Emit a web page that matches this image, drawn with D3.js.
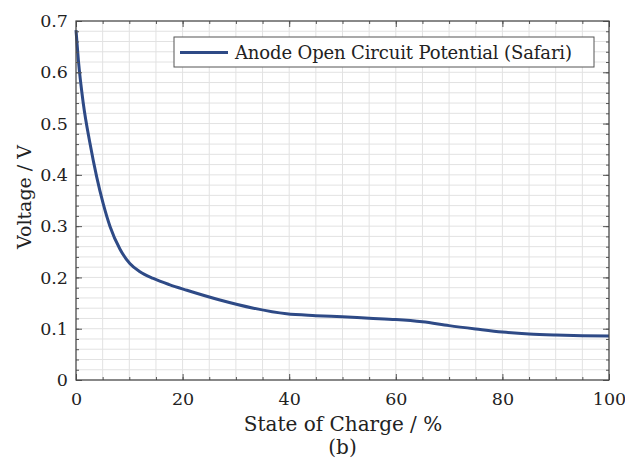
<!DOCTYPE html>
<html><head><meta charset="utf-8">
<script src="https://cdn.jsdelivr.net/npm/d3@7"></script>
<style>
body{margin:0;background:#fff;}
svg{display:block;}
</style></head>
<body>
<script>
const soc = [0, 0.44, 1.37, 2.63, 3.88, 5.1, 6.4, 8.26, 10.1, 12.0, 14.5, 17.5, 20.8, 27, 33.3, 39.5, 45, 50, 55, 60, 65, 70, 75, 80, 85, 90, 95, 100];
const voltage = [0.682, 0.624, 0.539, 0.461, 0.396, 0.344, 0.299, 0.255, 0.227, 0.211, 0.198, 0.186, 0.175, 0.156, 0.140, 0.129, 0.1255, 0.1232, 0.1205, 0.118, 0.1135, 0.106, 0.0995, 0.0935, 0.0897, 0.0877, 0.0865, 0.0858];
const xTicks = [0, 20, 40, 60, 80, 100];
const yTicks = [0, 0.1, 0.2, 0.3, 0.4, 0.5, 0.6, 0.7];
const seriesName = "Anode Open Circuit Potential (Safari)";
const xLabel = "State of Charge / %";
const yLabel = "Voltage / V";
const caption = "(b)";

const FONT = '"DejaVu Serif","Liberation Serif",serif';
const W = 625, H = 462;
const L = 76, R = 609, T = 21, B = 380;
const svg = d3.select("body").append("svg").attr("width", W).attr("height", H);
const x = d3.scaleLinear().domain([0, 100]).range([L, R]);
const y = d3.scaleLinear().domain([0, 0.7]).range([B, T]);

const xMinor = d3.range(0, 100.001, 5);
const yMinor = d3.range(0, 0.7001, 0.02);

const g = svg.append("g");
g.selectAll(".gx").data(xMinor).enter().append("line")
  .attr("x1", d => x(d)).attr("x2", d => x(d)).attr("y1", T).attr("y2", B)
  .attr("stroke", "#e2e2e2").attr("stroke-width", 1);
g.selectAll(".gy").data(yMinor).enter().append("line")
  .attr("y1", d => y(d)).attr("y2", d => y(d)).attr("x1", L).attr("x2", R)
  .attr("stroke", "#e2e2e2").attr("stroke-width", 1);

const line = d3.line().x((d, i) => x(soc[i])).y(d => y(d)).curve(d3.curveMonotoneX);
svg.append("path").datum(voltage).attr("d", line)
  .attr("fill", "none").attr("stroke", "#2e4a86").attr("stroke-width", 3);

const ax = svg.append("g");
function fmtY(d){ return d === 0 ? "0" : d3.format(".1f")(d); }
ax.append("g").attr("transform", `translate(0,${B})`)
  .call(d3.axisBottom(x).tickValues(xTicks).tickSizeInner(-6).tickSizeOuter(0).tickPadding(13));
ax.append("g").attr("transform", `translate(0,${T})`)
  .call(d3.axisTop(x).tickValues(xTicks).tickSizeInner(-6).tickSizeOuter(0).tickFormat(""));
ax.append("g").attr("transform", `translate(${L},0)`)
  .call(d3.axisLeft(y).tickValues(yTicks).tickSizeInner(-6).tickSizeOuter(0).tickPadding(8).tickFormat(fmtY));
ax.append("g").attr("transform", `translate(${R},0)`)
  .call(d3.axisRight(y).tickValues(yTicks).tickSizeInner(-6).tickSizeOuter(0).tickFormat(""));
ax.append("g").attr("transform", `translate(0,${B})`)
  .call(d3.axisBottom(x).tickValues(xMinor).tickSizeInner(-3).tickSizeOuter(0).tickFormat(""));
ax.append("g").attr("transform", `translate(0,${T})`)
  .call(d3.axisTop(x).tickValues(xMinor).tickSizeInner(-3).tickSizeOuter(0).tickFormat(""));
ax.append("g").attr("transform", `translate(${L},0)`)
  .call(d3.axisLeft(y).tickValues(yMinor).tickSizeInner(-3).tickSizeOuter(0).tickFormat(""));
ax.append("g").attr("transform", `translate(${R},0)`)
  .call(d3.axisRight(y).tickValues(yMinor).tickSizeInner(-3).tickSizeOuter(0).tickFormat(""));
ax.selectAll(".domain").remove();
ax.selectAll("line").attr("stroke", "#555");
ax.selectAll("g").attr("font-family", FONT).attr("font-size", 17.5);
ax.selectAll("text").attr("fill", "#222");

svg.append("rect").attr("x", L).attr("y", T).attr("width", R - L).attr("height", B - T)
  .attr("fill", "none").attr("stroke", "#444").attr("stroke-width", 1.2);

const lg = svg.append("g");
lg.append("rect").attr("x", 174).attr("y", 37).attr("width", 420).attr("height", 30)
  .attr("fill", "#fff").attr("stroke", "#555").attr("stroke-width", 1);
lg.append("line").attr("x1", 180).attr("x2", 228).attr("y1", 52.5).attr("y2", 52.5)
  .attr("stroke", "#2e4a86").attr("stroke-width", 3);
lg.append("text").attr("x", 235).attr("y", 58.5).attr("font-family", FONT).attr("font-size", 18)
  .attr("fill", "#222").attr("textLength", 337).attr("lengthAdjust", "spacing").text(seriesName);

svg.append("text").attr("x", (L + R) / 2 + 0.5).attr("y", 431).attr("text-anchor", "middle")
  .attr("font-family", FONT).attr("font-size", 20).attr("fill", "#222").text(xLabel);
svg.append("text").attr("x", (L + R) / 2).attr("y", 454).attr("text-anchor", "middle")
  .attr("font-family", FONT).attr("font-size", 20).attr("fill", "#222").text(caption);
svg.append("text").attr("transform", `translate(31,197) rotate(-90)`)
  .attr("text-anchor", "middle").attr("font-family", FONT).attr("font-size", 19)
  .attr("fill", "#222").text(yLabel);
</script>
</body></html>
